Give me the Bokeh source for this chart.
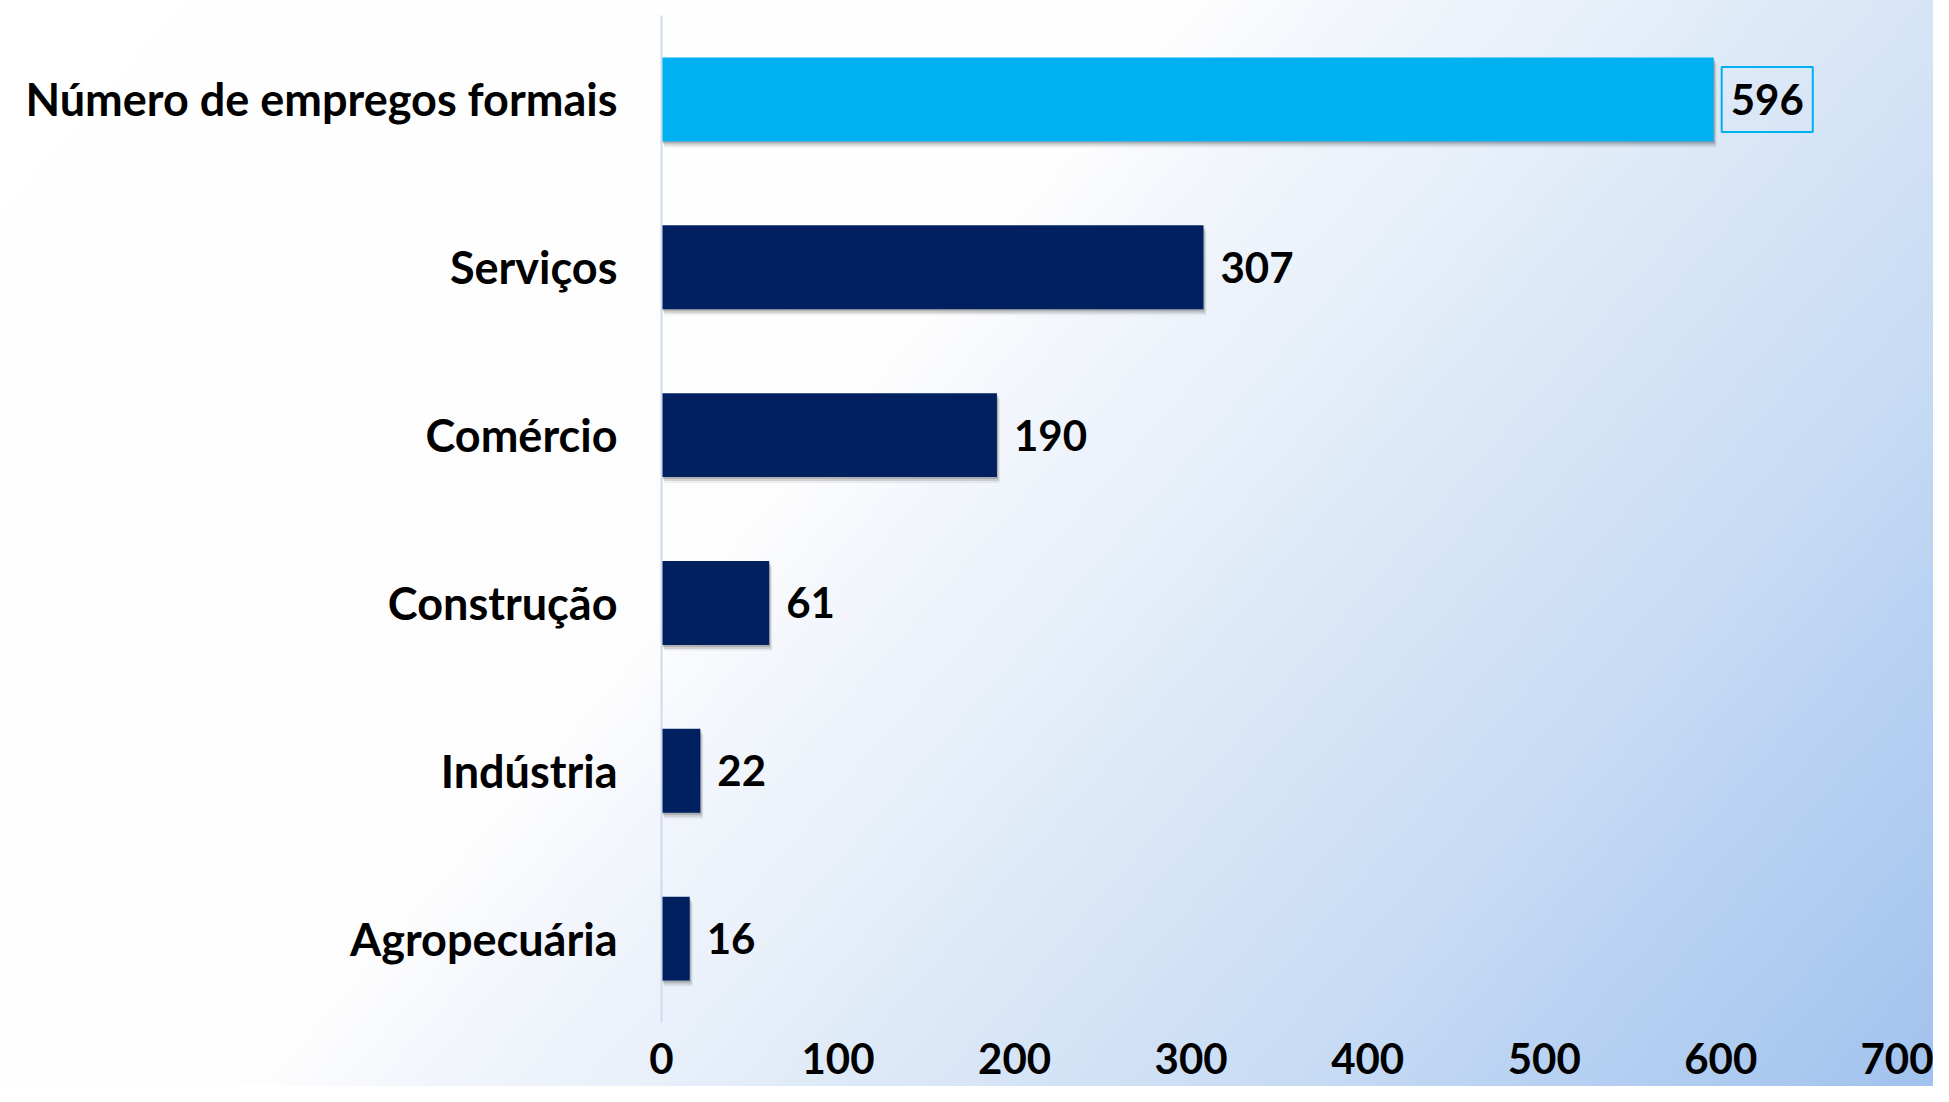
from bokeh.plotting import figure
from bokeh.models import ColumnDataSource, FactorRange, Range1d, FixedTicker
from bokeh.transform import dodge
from bokeh.core.properties import value
from bokeh.embed import file_html
from bokeh.resources import INLINE

# ---- data ----
categories = ["Número de empregos formais", "Serviços", "Comércio",
              "Construção", "Indústria", "Agropecuária"]
values = [596, 307, 190, 61, 22, 16]
bar_colors = ["#00b0f0", "#002060", "#002060", "#002060", "#002060", "#002060"]
highlight = [1, 0, 0, 0, 0, 0]
x_ticks = [0, 100, 200, 300, 400, 500, 600, 700]

FONT = value("Lato")
W, H = 1933, 1086
LEFT, TOP, BOTTOM = 661, 15, 64
X_END = 720.5

src = ColumnDataSource(dict(
    cat=categories,
    val=values,
    color=bar_colors,
    lab=[str(v) for v in values],
    balpha=highlight,
))

p = figure(width=W, height=H,
           y_range=FactorRange(*list(reversed(categories))),
           x_range=Range1d(0, X_END),
           output_backend="svg", toolbar_location=None,
           min_border_left=LEFT, min_border_right=0,
           min_border_top=TOP, min_border_bottom=BOTTOM)
p.y_range.range_padding = 0

p.background_fill_alpha = 0
p.border_fill_alpha = 0
p.outline_line_color = None
p.styles = {"background": "linear-gradient(131deg, #ffffff 0%, #fdfdfe 42%, #f3f6fc 47%, "
                          "#eaf1fa 54%, #d5e4f6 68%, #c7dbf4 78%, #bfd6f3 82%, #a1c2ee 100%)"}
p.xgrid.visible = False
p.ygrid.visible = False

# pixel -> data helpers for the drop shadow
px_x = X_END / (W - LEFT)
px_y = len(categories) / (H - TOP - BOTTOM)

for k, a in ((1, 0.16), (2, 0.11), (3, 0.06)):
    p.hbar(y=dodge("cat", -2 * k * px_y, range=p.y_range),
           left=k * px_x, right=dodge("val", k * px_x),
           height=0.5, source=src, fill_color="black", fill_alpha=a,
           line_color=None)

p.hbar(y="cat", left=0, right="val", height=0.5, source=src,
       fill_color="color", line_color=None)

p.text(x="val", y="cat", text="lab", source=src,
       x_offset=8, text_align="left", text_baseline="middle",
       text_font=FONT, text_font_style="bold", text_font_size="42px",
       text_color="black", padding=dict(left=9, right=9, top=17, bottom=17),
       border_line_color="#00b0f0", border_line_width=2,
       border_line_alpha="balpha")

# axes
yax = p.yaxis[0]
yax.axis_line_color = "#cddbee"
yax.axis_line_width = 2
yax.major_tick_line_color = None
yax.minor_tick_line_color = None
yax.major_label_standoff = 38
yax.major_label_text_font = "Lato"
yax.major_label_text_font_style = "bold"
yax.major_label_text_font_size = "45px"
yax.major_label_text_color = "black"

xax = p.xaxis[0]
xax.ticker = FixedTicker(ticks=x_ticks)
xax.axis_line_color = None
xax.major_tick_line_color = None
xax.minor_tick_line_color = None
xax.major_label_standoff = 14
xax.major_label_text_font = "Lato"
xax.major_label_text_font_style = "bold"
xax.major_label_text_font_size = "42px"
xax.major_label_text_color = "black"

open("out.html", "w").write(file_html(p, INLINE))
